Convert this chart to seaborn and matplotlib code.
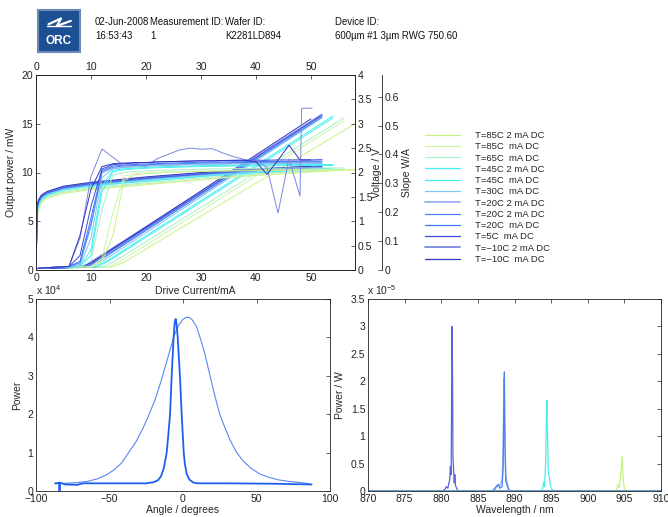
import matplotlib
matplotlib.use("Agg")
import matplotlib.pyplot as plt
import seaborn as sns
from matplotlib.lines import Line2D
from matplotlib.ticker import FormatStrFormatter

sns.set_style("white")
plt.rcParams['font.family'] = ['Liberation Sans', 'DejaVu Sans']
plt.rcParams['mathtext.default'] = 'regular'
plt.rcParams['axes.linewidth'] = 0.6
plt.rcParams['axes.edgecolor'] = '#222222'

# ---------------- header ----------------
hdr_date = "02-Jun-2008"
hdr_time = "16:53:43"
hdr_meas_label = "Measurement ID:"
hdr_meas = "1"
hdr_wafer_label = "Wafer ID:"
hdr_wafer = "K2281LD894"
hdr_device_label = "Device ID:"
hdr_device = "600µm #1 3µm RWG 750.60"

# ---------------- series ----------------
labels = ["T=85C 2 mA DC", "T=85C  mA DC", "T=65C  mA DC", "T=45C 2 mA DC",
          "T=45C  mA DC", "T=30C  mA DC", "T=20C 2 mA DC", "T=20C 2 mA DC",
          "T=20C  mA DC", "T=5C  mA DC", "T=\u221210C 2 mA DC", "T=\u221210C  mA DC"]
colors = ["#c6f57e", "#cdf2a8", "#a8f0c8", "#48eef0", "#40f0f0", "#78c8f0",
          "#98b0f0", "#4a80f0", "#3a78f8", "#3a48e0", "#7888e0", "#3535c0"]

# L-I curves (output power, mW)
l_on_mA = [13.8, 13.0, 12.0, 11.0, 10.6, 10.0, 9.4, 9.2, 9.0, 8.6, 8.2, 8.0]
l_knee_mA = [16.0, 15.2, 14.2, 13.2, 12.8, 12.2, 11.6, 11.4, 11.2, 10.8, 10.4, 10.2]
l_knee_mW = [0.8, 0.85, 0.85, 0.9, 0.9, 0.95, 0.95, 0.95, 1.0, 1.0, 1.0, 0.8]
imax_mA = [58, 56, 56, 54, 54, 52, 52, 52, 52, 52, 52, 50]
pmax_mW = [15.0, 15.3, 15.6, 15.6, 15.8, 15.6, 15.8, 15.7, 15.9, 15.9, 16.0, 15.5]

# V-I curves (voltage, V)
v_grid_mA = [0, 0.25, 0.5, 1, 2, 5, 10, 20, 30, 40, 50]
v_85C2 = [0.05, 1.10, 1.25, 1.38, 1.47, 1.57, 1.65, 1.75, 1.85, 1.94, 2.01]
v_85C = [0.05, 1.13, 1.27, 1.40, 1.48, 1.59, 1.67, 1.77, 1.86, 1.95, 2.02]
v_65C = [0.05, 1.17, 1.30, 1.42, 1.51, 1.61, 1.69, 1.79, 1.89, 1.97, 2.04]
v_45C2 = [0.05, 1.22, 1.34, 1.45, 1.53, 1.64, 1.72, 1.82, 1.92, 2.00, 2.06]
v_45C = [0.05, 1.24, 1.35, 1.46, 1.54, 1.65, 1.73, 1.83, 1.92, 2.00, 2.07]
v_30C = [0.05, 1.27, 1.37, 1.48, 1.56, 1.66, 1.74, 1.85, 1.94, 2.02, 2.08]
v_20C2a = [0.05, 1.29, 1.39, 1.50, 1.57, 1.68, 1.76, 1.87, 1.96, 2.03, 2.10]
v_20C2b = [0.05, 1.30, 1.40, 1.50, 1.58, 1.68, 1.76, 1.87, 1.96, 2.04, 2.10]
v_20C = [0.05, 1.31, 1.41, 1.51, 1.58, 1.69, 1.77, 1.88, 1.97, 2.04, 2.10]
v_5C = [0.05, 1.34, 1.43, 1.52, 1.59, 1.70, 1.78, 1.89, 1.98, 2.06, 2.12]
v_m10C2 = [0.05, 1.36, 1.44, 1.53, 1.60, 1.71, 1.79, 1.90, 1.99, 2.07, 2.13]
v_m10C = [0.05, 1.37, 1.45, 1.54, 1.61, 1.72, 1.80, 1.91, 2.00, 2.07, 2.13]
v_end_V = [2.06, 2.06, 2.07, 2.08, 2.09, 2.09, 2.11, 2.11, 2.12, 2.13, 2.14, 2.13]

# slope curves dL/dI (W/A), sampled every 2 mA
s_grid_mA = [0, 2, 4, 6, 8, 10, 12, 14, 16, 18, 20, 22, 24, 26, 28, 30,
             32, 34, 36, 38, 40, 42, 44, 46, 48, 50, 52, 54, 56, 58]
s_85C2 = [0.005, 0.008, 0.01, 0.01, 0.01, 0.01, 0.03, 0.12, 0.31, 0.33, 0.334, 0.336, 0.338, 0.339, 0.34,
          0.341, 0.342, 0.342, 0.343, 0.343, 0.344, 0.344, 0.345, 0.345, 0.345, 0.346, 0.346, 0.346, 0.346, 0.346]
s_85C = [0.005, 0.008, 0.01, 0.01, 0.01, 0.012, 0.04, 0.2, 0.325, 0.333, 0.336, 0.338, 0.34, 0.341, 0.342,
         0.343, 0.344, 0.345, 0.345, 0.346, 0.346, 0.347, 0.347, 0.347, 0.348, 0.348, 0.348, 0.348, 0.348]
s_65C = [0.005, 0.008, 0.01, 0.01, 0.01, 0.03, 0.21, 0.33, 0.338, 0.341, 0.343, 0.345, 0.346, 0.347, 0.348,
         0.349, 0.35, 0.35, 0.351, 0.351, 0.352, 0.352, 0.352, 0.353, 0.353, 0.353, 0.353, 0.353, 0.353]
s_45C2 = [0.005, 0.008, 0.01, 0.01, 0.012, 0.05, 0.27, 0.34, 0.347, 0.35, 0.352, 0.354, 0.355, 0.356, 0.357,
          0.358, 0.359, 0.359, 0.36, 0.36, 0.361, 0.361, 0.361, 0.362, 0.362, 0.362, 0.362, 0.362]
s_45C = [0.005, 0.008, 0.01, 0.01, 0.012, 0.07, 0.29, 0.345, 0.35, 0.353, 0.355, 0.357, 0.358, 0.359, 0.36,
         0.361, 0.362, 0.362, 0.363, 0.363, 0.364, 0.364, 0.364, 0.365, 0.365, 0.365, 0.365, 0.365]
s_30C = [0.005, 0.008, 0.01, 0.01, 0.015, 0.11, 0.32, 0.35, 0.354, 0.357, 0.359, 0.361, 0.362, 0.363, 0.364,
         0.365, 0.366, 0.366, 0.367, 0.367, 0.368, 0.368, 0.368, 0.369, 0.369, 0.369, 0.369]
s_20C2a = [0.005, 0.008, 0.01, 0.012, 0.02, 0.15, 0.335, 0.352, 0.356, 0.359, 0.361, 0.363, 0.364, 0.365, 0.366,
           0.367, 0.368, 0.368, 0.369, 0.369, 0.37, 0.37, 0.37, 0.371, 0.371, 0.371, 0.371]
s_20C2b = [0.005, 0.008, 0.01, 0.012, 0.025, 0.16, 0.34, 0.356, 0.36, 0.362, 0.364, 0.366, 0.367, 0.368, 0.369,
           0.37, 0.371, 0.371, 0.372, 0.372, 0.373, 0.373, 0.373, 0.374, 0.374, 0.374, 0.374]
s_20C = [0.005, 0.008, 0.01, 0.012, 0.03, 0.18, 0.345, 0.36, 0.363, 0.365, 0.367, 0.368, 0.37, 0.371, 0.372,
         0.373, 0.374, 0.374, 0.375, 0.375, 0.375, 0.376, 0.376, 0.376, 0.376, 0.377, 0.377]
s_5C = [0.005, 0.008, 0.01, 0.012, 0.05, 0.22, 0.35, 0.365, 0.368, 0.37, 0.372, 0.374, 0.375, 0.376, 0.377,
        0.378, 0.378, 0.379, 0.379, 0.38, 0.38, 0.38, 0.381, 0.381, 0.381, 0.381, 0.382]
s_m10C = [0.005, 0.008, 0.01, 0.012, 0.12, 0.28, 0.358, 0.368, 0.37, 0.372, 0.372, 0.374, 0.375, 0.376, 0.377,
          0.378, 0.378, 0.379, 0.38, 0.38, 0.375, 0.331, 0.38, 0.432, 0.381, 0.381]
s_m10C2_mA = [0, 2, 4, 6, 8, 10, 12, 14, 16, 18, 20, 22, 24, 26, 28, 30, 32, 34, 36, 38, 40,
              42, 44, 46, 48, 48.3, 50.2]
s_m10C2 = [0.005, 0.008, 0.01, 0.012, 0.11, 0.324, 0.419, 0.39, 0.361, 0.371, 0.359, 0.385, 0.40, 0.415,
           0.422, 0.418, 0.42, 0.405, 0.392, 0.382, 0.378, 0.355, 0.197, 0.385, 0.256, 0.56, 0.56]

# far field (power in units of 1e4)
ff_broad_deg = [-87, -80, -72, -65, -58, -52, -47, -42, -37, -32, -27, -23, -19, -15, -12, -9, -6, -3, 0, 2,
                4, 6, 9, 12, 15, 18.4, 21.5, 25, 28, 32, 36.5, 41, 46, 52, 58, 65, 72, 80, 84, 87.5]
ff_broad_pw = [0.19, 0.2, 0.22, 0.25, 0.32, 0.42, 0.55, 0.72, 1.0, 1.28, 1.65, 2.0, 2.38, 2.85, 3.25, 3.65,
               4.05, 4.32, 4.47, 4.52, 4.52, 4.47, 4.3, 3.95, 3.55, 3.0, 2.5, 2.0, 1.7, 1.33, 1.0, 0.78,
               0.6, 0.45, 0.36, 0.29, 0.25, 0.22, 0.2, 0.17]
ff_narrow_deg = [-87, -84, -84, -84, -80, -72, -68, -60, -40, -25, -20, -17, -15, -13, -11.1, -9.9, -8.8,
                 -7.7, -6.4, -5.6, -5.0, -4.4, -3.6, -2.1, -0.9, 0.5, 1.3, 2.5, 4.3, 7, 10, 30, 60, 87.5]
ff_narrow_pw = [0.2, 0.21, 0.0, 0.22, 0.17, 0.16, 0.2, 0.2, 0.2, 0.2, 0.23, 0.28, 0.38, 0.6, 1.0, 1.5, 2.0,
                3.0, 4.0, 4.4, 4.48, 4.35, 4.0, 3.0, 2.0, 1.0, 0.7, 0.45, 0.3, 0.22, 0.2, 0.2, 0.19, 0.17]

# spectra (power in units of 1e-5 W)
sp_flat_nm = [870, 910]
sp_flat_pw = [0, 0]
sp_m10C2_nm = [870, 880.2, 880.5, 880.7, 880.9, 881.0, 881.15, 881.25, 881.35, 881.42, 881.48, 881.54,
               881.6, 881.7, 881.78, 881.85, 881.95, 882.1, 882.3, 910]
sp_m10C2_pw = [0, 0, 0.03, 0.08, 0.05, 0.12, 0.2, 0.45, 0.3, 1.8, 3.0, 2.2, 0.6, 0.35, 0.15, 0.3, 0.1,
               0.05, 0, 0]
sp_20C2a_nm = [870, 887.2, 887.6, 888.0, 888.3, 888.45, 888.55, 888.65, 888.8, 889.0, 889.3, 910]
sp_20C2a_pw = [0, 0, 0.08, 0.1, 0.2, 0.8, 2.05, 1.2, 0.3, 0.15, 0, 0]
sp_20C2b_nm = [870, 887.0, 887.3, 887.6, 887.8, 888.0, 888.3, 888.45, 888.55, 888.62, 888.7, 888.8,
               888.95, 889.1, 889.4, 910]
sp_20C2b_pw = [0, 0, 0.05, 0.1, 0.12, 0.05, 0.08, 0.4, 1.6, 2.17, 0.9, 0.2, 0.12, 0.05, 0, 0]
sp_45C2_nm = [870, 893.6, 893.85, 894.0, 894.1, 894.25, 894.35, 894.42, 894.5, 894.6, 894.75, 894.85,
              895.0, 895.3, 910]
sp_45C2_pw = [0, 0, 0.05, 0.17, 0.08, 0.5, 1.3, 1.65, 1.1, 0.4, 0.25, 0.15, 0.05, 0, 0]
sp_85C2_nm = [870, 903.7, 904.0, 904.15, 904.3, 904.45, 904.55, 904.65, 904.72, 904.8, 904.95, 905.2, 910]
sp_85C2_pw = [0, 0, 0.05, 0.12, 0.06, 0.2, 0.35, 0.55, 0.62, 0.3, 0.08, 0, 0]

volt_rows = [v_85C2, v_85C, v_65C, v_45C2, v_45C, v_30C, v_20C2a, v_20C2b, v_20C, v_5C, v_m10C2, v_m10C]
slope_rows = [s_85C2, s_85C, s_65C, s_45C2, s_45C, s_30C, s_20C2a, s_20C2b, s_20C, s_5C, s_m10C2, s_m10C]
slope_cur = [s_grid_mA[:len(r)] for r in slope_rows]
slope_cur[10] = s_m10C2_mA
spectra = {0: (sp_85C2_nm, sp_85C2_pw), 3: (sp_45C2_nm, sp_45C2_pw), 6: (sp_20C2a_nm, sp_20C2a_pw),
           7: (sp_20C2b_nm, sp_20C2b_pw), 10: (sp_m10C2_nm, sp_m10C2_pw)}

W, H = 668, 517
fig = plt.figure(figsize=(W / 100, H / 100), dpi=100)
FS = 7.5
HFS = 6.9


def frac(x0, y0, x1, y1):
    return [x0 / W, 1 - y1 / H, (x1 - x0) / W, (y1 - y0) / H]


def draw(ax, x, y, color, lw=0.7, alpha=1.0):
    sns.lineplot(x=x, y=y, ax=ax, color=color, lw=lw, alpha=alpha, sort=False,
                 estimator=None, legend=False)


def style(ax):
    ax.tick_params(direction='in', length=3, width=0.5, labelsize=FS, pad=2, colors='#222222')
    ax.set_facecolor('none')


# ---------------- header ----------------
logo = fig.add_axes(frac(38, 10, 80, 52))
logo.set_facecolor('#1d4f93')
for s in logo.spines.values():
    s.set_color('#6d8ab8')
    s.set_linewidth(1.5)
logo.set_xticks([])
logo.set_yticks([])
logo.set_xlim(0, 1)
logo.set_ylim(0, 1)
logo.text(0.5, 0.27, "ORC", color='white', fontsize=8.5, fontweight='bold', ha='center', va='center')
logo.plot([0.25, 0.55, 0.45, 0.78], [0.66, 0.80, 0.62, 0.74], color='white', lw=1.6)
logo.plot([0.22, 0.78], [0.62, 0.62], color='white', lw=1.0)

for x, y, t in [(95, 22, hdr_date), (95, 36, hdr_time), (150, 22, hdr_meas_label), (150, 36, hdr_meas),
                (225, 22, hdr_wafer_label), (225, 36, hdr_wafer), (335, 22, hdr_device_label),
                (335, 36, hdr_device)]:
    fig.text(x / W, 1 - y / H, t, fontsize=HFS, ha='left', va='center', color='#111111')

# ---------------- top LIV plot ----------------
ax = fig.add_axes(frac(36, 75, 355, 270))
ax_v = ax.twinx()
ax_s = ax.twinx()
ax_s.spines['right'].set_position(('outward', 19.5))

for i in range(12):
    lw = 0.7
    draw(ax, [0, l_on_mA[i], l_knee_mA[i], imax_mA[i]], [0.15, 0.3, l_knee_mW[i], pmax_mW[i]], colors[i], lw)
    draw(ax_v, v_grid_mA + [imax_mA[i]], volt_rows[i] + [v_end_V[i]], colors[i], lw)
    draw(ax_s, slope_cur[i], slope_rows[i], colors[i], lw)

ax.set_xlim(0, 58)
ax.set_ylim(0, 20)
ax.set_xticks([0, 10, 20, 30, 40, 50])
ax.set_yticks([0, 5, 10, 15, 20])
ax_v.set_ylim(0, 4)
ax_v.set_yticks([0, 0.5, 1, 1.5, 2, 2.5, 3, 3.5, 4])
ax_v.yaxis.set_major_formatter(FormatStrFormatter('%g'))
ax_s.set_ylim(0, 0.675)
ax_s.set_yticks([0, 0.1, 0.2, 0.3, 0.4, 0.5, 0.6])
ax_s.yaxis.set_major_formatter(FormatStrFormatter('%g'))
for a in (ax, ax_v, ax_s):
    style(a)
ax.tick_params(axis='x', top=True, labeltop=True)
ax.set_xlabel("Drive Current/mA", fontsize=FS, labelpad=2)
ax.set_ylabel("Output power / mW", fontsize=FS, labelpad=4)
ax_v.set_ylabel("Voltage / V", fontsize=FS, labelpad=0)
ax_s.set_ylabel("Slope W/A", fontsize=FS, labelpad=2)
ax_s.spines['top'].set_visible(False)
ax_s.spines['left'].set_visible(False)
ax_s.spines['bottom'].set_visible(False)

handles = [Line2D([], [], color=c, lw=(1.3 if k in (6, 10) else 0.9)) for k, c in enumerate(colors)]
fig.legend(handles, labels, loc='upper left', bbox_to_anchor=(425 / W, 1 - 131 / H), frameon=False,
           fontsize=6.8, handlelength=3.7, handletextpad=1.6, labelspacing=0.24, borderpad=0,
           borderaxespad=0)

fig.text(36 / W, 1 - 290 / H, r"x 10$^{4}$", fontsize=FS, ha='left', va='center')
fig.text(367 / W, 1 - 290 / H, r"x 10$^{-5}$", fontsize=FS, ha='left', va='center')

# ---------------- far field ----------------
axf = fig.add_axes(frac(36, 299, 330, 491))
draw(axf, ff_broad_deg, ff_broad_pw, '#5a86f2', 0.8)
draw(axf, ff_narrow_deg, ff_narrow_pw, '#1f5ff0', 1.3)
axf.set_xlim(-100, 100)
axf.set_ylim(0, 5)
axf.set_xticks([-100, -50, 0, 50, 100])
axf.set_yticks([0, 1, 2, 3, 4, 5])
style(axf)
axf.tick_params(top=True, right=True)
axf.set_xlabel("Angle / degrees", fontsize=FS, labelpad=1)
axf.set_ylabel("Power", fontsize=FS, labelpad=4)

# ---------------- spectrum ----------------
axp = fig.add_axes(frac(368, 299, 661, 491))
for i in [0, 3, 6, 7, 10]:
    nm, pw = spectra[i]
    draw(axp, nm, pw, colors[i] if i != 10 else '#5a64d4', 0.9)
for i in reversed(range(12)):
    if i not in spectra:
        draw(axp, sp_flat_nm, sp_flat_pw, colors[i], 0.9)
axp.set_xlim(870, 910)
axp.set_ylim(0, 3.5)
axp.set_xticks(list(range(870, 911, 5)))
axp.set_yticks([0, 0.5, 1, 1.5, 2, 2.5, 3, 3.5])
axp.yaxis.set_major_formatter(FormatStrFormatter('%g'))
style(axp)
axp.tick_params(top=True, right=True)
axp.set_xlabel("Wavelength / nm", fontsize=FS, labelpad=1)
axp.set_ylabel("Power / W", fontsize=FS, labelpad=4)

fig.savefig("out.png", dpi=100, facecolor='white')
